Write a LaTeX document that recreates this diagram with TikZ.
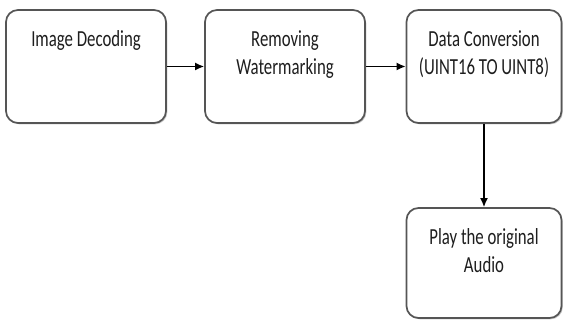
\documentclass[tikz,border=0pt]{standalone}
\usepackage{fontspec}
\setmainfont{Carlito}
\newfontfamily\boxfont[FakeStretch=0.73]{Carlito}
\usetikzlibrary{arrows.meta,shadows}
\definecolor{boxline}{HTML}{555555}
\definecolor{txt}{HTML}{1E1E1E}
\newcommand{\boxtext}[3]{\parbox[c][#1][t]{#2}{\centering\boxfont\fontsize{23}{28}\selectfont\vspace*{21pt}#3\par}}
\tikzset{
  stepbox/.style={draw=boxline, line width=1.7pt, rounded corners=12pt, fill=white,
    inner sep=0pt, text=txt,
    drop shadow={shadow xshift=1.3pt, shadow yshift=-1.3pt, opacity=0.35, fill=black!60}},
  flow/.style={-{Latex[length=9pt,width=8pt]}, line width=1.5pt, black}
}
\begin{document}
\begin{tikzpicture}[x=1pt,y=-1pt]
\useasboundingbox (0,0) rectangle (563,320);
\node[stepbox] (dec) at (86,66.5) {\boxtext{113pt}{160pt}{Image Decoding}};
\node[stepbox] (rem) at (285,66.5) {\boxtext{113pt}{160pt}{Removing\\Watermarking}};
\node[stepbox] (conv) at (484,66.5) {\boxtext{113pt}{155pt}{Data Conversion\\(UINT16 TO UINT8)}};
\node[stepbox] (play) at (484,263) {\boxtext{110pt}{155pt}{Play the original\\Audio}};
\draw[flow] (dec) -- (rem);
\draw[flow] (rem) -- (conv);
\draw[flow] (conv) -- (play);
\end{tikzpicture}
\end{document}
